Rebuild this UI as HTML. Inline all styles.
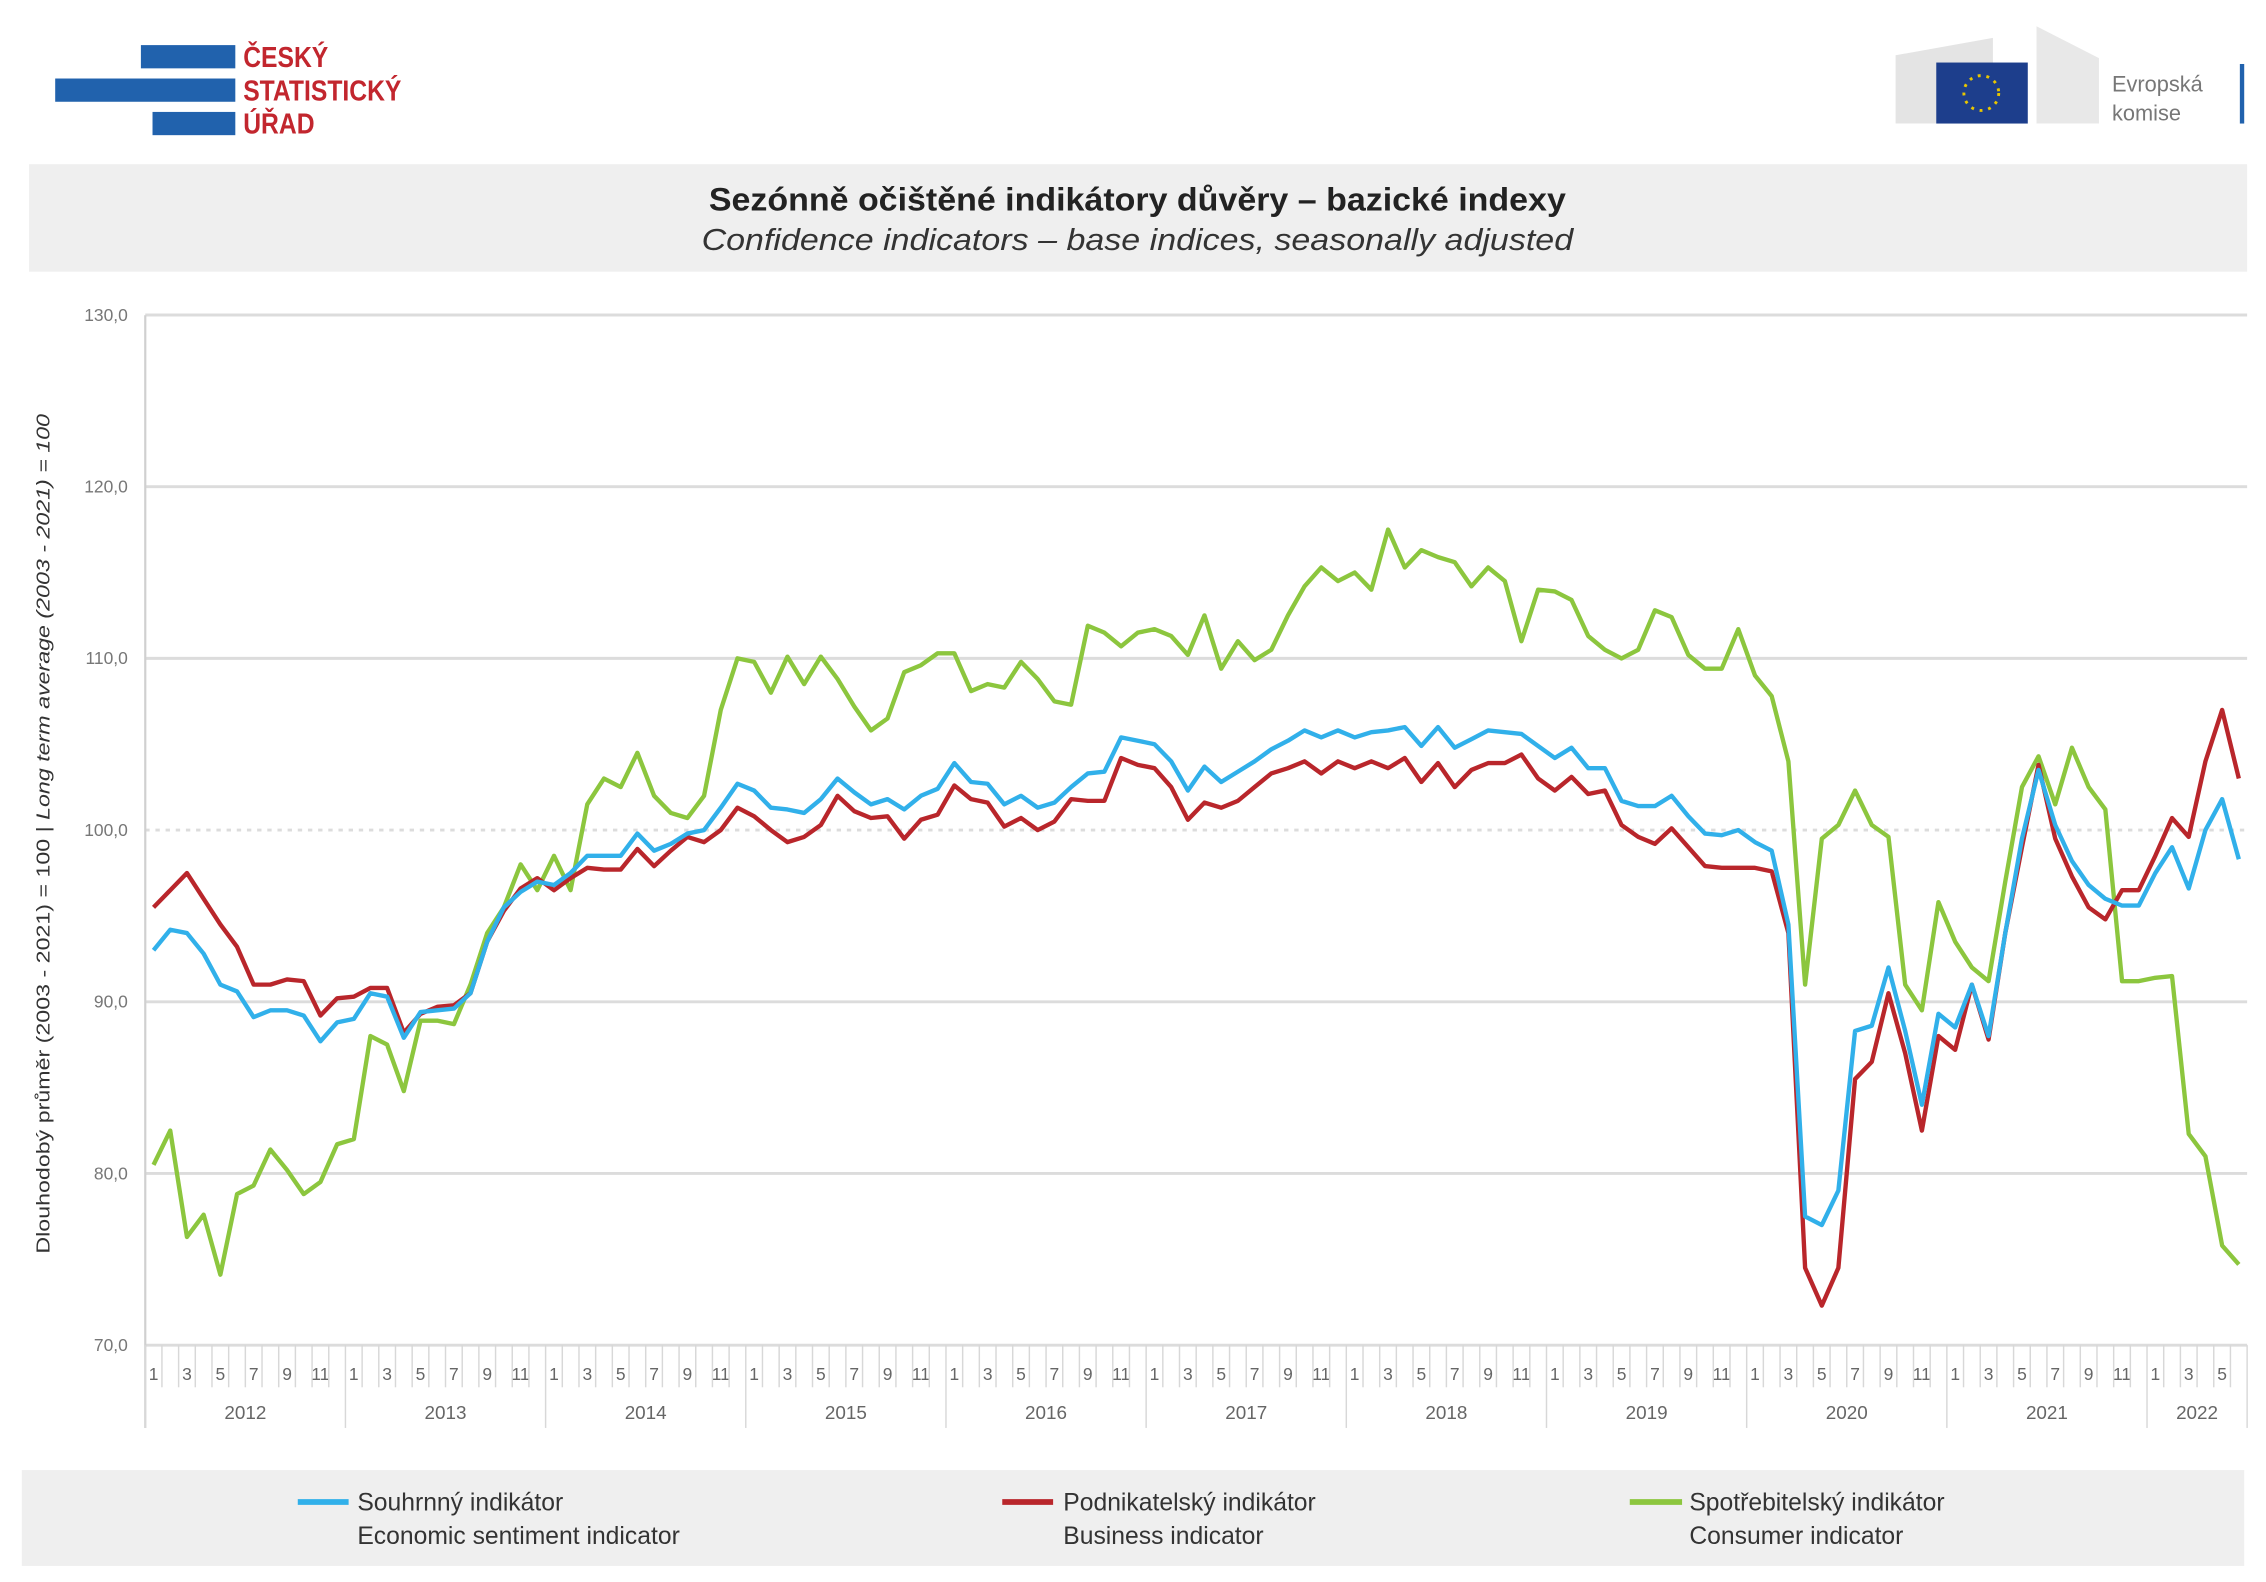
<!DOCTYPE html>
<html><head><meta charset="utf-8"><style>
html,body{margin:0;padding:0;background:#fff;}
svg{display:block;}
</style></head><body>
<svg id="s" width="2266" height="1582" viewBox="0 0 1560 1089" xmlns="http://www.w3.org/2000/svg" font-family="Liberation Sans, sans-serif">
<rect width="1560" height="1089" fill="#fff"/>
<!-- CSU logo -->
<rect x="97" y="31" width="65" height="16" fill="#2162ad"/>
<rect x="38" y="54" width="124" height="16" fill="#2162ad"/>
<rect x="105" y="77" width="57" height="16" fill="#2162ad"/>
<g fill="#c2262e" font-weight="bold" font-size="20" transform="scale(0.85,1)">
<text x="197" y="46">ČESKÝ</text>
<text x="197" y="69">STATISTICKÝ</text>
<text x="197" y="92">ÚŘAD</text>
</g>
<!-- EU logo -->
<polygon points="1305,38 1372,26 1372,85 1305,85" fill="#e4e4e4"/>
<polygon points="1402,18 1445,40 1445,85 1402,85" fill="#e8e8e8"/>
<rect x="1333" y="43" width="63" height="42" fill="#1d3e8c"/>
<circle cx="1364" cy="64" r="12" fill="none" stroke="#e8c600" stroke-width="2" stroke-dasharray="2 4"/>
<text x="1454" y="63" font-size="15" fill="#777">Evropská</text>
<text x="1454" y="83" font-size="15" fill="#777">komise</text>
<rect x="1542" y="44" width="3" height="41" fill="#2162ad"/>
<!-- Title -->
<rect x="20" y="113" width="1527" height="74" fill="#efefef"/>
<text x="783" y="145" text-anchor="middle" font-size="22" font-weight="bold" fill="#222" textLength="590" lengthAdjust="spacingAndGlyphs">Sezónně očištěné indikátory důvěry – bazické indexy</text>
<text x="783" y="172" text-anchor="middle" font-size="21" font-style="italic" fill="#333" textLength="600" lengthAdjust="spacingAndGlyphs">Confidence indicators – base indices, seasonally adjusted</text>
<!-- Legend -->
<rect x="15" y="1012" width="1530" height="66" fill="#efefef"/>
<g font-size="17" fill="#333">
<line x1="205" y1="1034" x2="240" y2="1034" stroke="#31b0ea" stroke-width="4"/>
<text x="246" y="1040">Souhrnný indikátor</text><text x="246" y="1063">Economic sentiment indicator</text>
<line x1="690" y1="1034" x2="725" y2="1034" stroke="#b9262b" stroke-width="4"/>
<text x="732" y="1040">Podnikatelský indikátor</text><text x="732" y="1063">Business indicator</text>
<line x1="1122" y1="1034" x2="1158" y2="1034" stroke="#8cc63e" stroke-width="4"/>
<text x="1163" y="1040">Spotřebitelský indikátor</text><text x="1163" y="1063">Consumer indicator</text>
</g>
<text transform="translate(34,574) rotate(-90)" text-anchor="middle" font-size="13" fill="#333" textLength="578" lengthAdjust="spacingAndGlyphs">Dlouhodobý průměr (2003 - 2021) = 100 | <tspan font-style="italic">Long term average (2003 - 2021) = 100</tspan></text>
<g id="plot"></g>
</svg>
<script>
var g=document.getElementById('plot'),h='';
function Y(v){return 926-(v-70)*11.82;}
var L=100,R=1547,mw=(R-L)/126;
for(var v=70;v<=130;v+=10){var y=Y(v);
 h+='<line x1="'+L+'" y1="'+y+'" x2="'+R+'" y2="'+y+'" stroke="#dcdcdc" stroke-width="2"'+(v==100?' stroke-dasharray="3 4"':'')+'/>';
 h+='<text x="88" y="'+(y+4)+'" text-anchor="end" font-size="12" fill="#777">'+v+',0</text>';}
h+='<line x1="'+L+'" y1="217" x2="'+L+'" y2="983" stroke="#d0d0d0" stroke-width="1.5"/>';
for(var i=0;i<126;i++){var x=L+i*mw;
 h+='<line x1="'+x+'" y1="926" x2="'+x+'" y2="'+(i%12==0?983:955)+'" stroke="#d8d8d8" stroke-width="1"/>';
 if(i%2==0)h+='<text x="'+(x+mw/2)+'" y="950" text-anchor="middle" font-size="12" fill="#666">'+(i%12+1)+'</text>';
}
h+='<line x1="'+R+'" y1="926" x2="'+R+'" y2="983" stroke="#d8d8d8"/>';
for(var yr=0;yr<11;yr++){var c=L+(yr*12+(yr==10?3:6))*mw;
 h+='<text x="'+c+'" y="977" text-anchor="middle" font-size="13" fill="#666">'+(2012+yr)+'</text>';}
var G=[80.5,82.5,76.3,77.6,74.1,78.8,79.3,81.4,80.2,78.8,79.5,81.7,82,88,87.5,84.8,88.9,88.9,88.7,91,94,95.5,98,96.5,98.5,96.5,101.5,103,102.5,104.5,102,101,100.7,102,107,110,109.8,108,110.1,108.5,110.1,108.8,107.2,105.8,106.5,109.2,109.6,110.3,110.3,108.1,108.5,108.3,109.8,108.8,107.5,107.3,111.9,111.5,110.7,111.5,111.7,111.3,110.2,112.5,109.4,111,109.9,110.5,112.5,114.2,115.3,114.5,115,114,117.5,115.3,116.3,115.9,115.6,114.2,115.3,114.5,111,114,113.9,113.4,111.3,110.5,110,110.5,112.8,112.4,110.2,109.4,109.4,111.7,109,107.8,104,91,99.5,100.3,102.3,100.3,99.6,91,89.5,95.8,93.5,92,91.2,97,102.5,104.3,101.5,104.8,102.5,101.2,91.2,91.2,91.4,91.5,82.3,81,75.8,74.7];
var B=[95.5,96.5,97.5,96,94.5,93.2,91,91,91.3,91.2,89.2,90.2,90.3,90.8,90.8,88.2,89.3,89.7,89.8,90.5,93.5,95.3,96.6,97.2,96.5,97.2,97.8,97.7,97.7,98.9,97.9,98.8,99.6,99.3,100,101.3,100.8,100,99.3,99.6,100.3,102,101.1,100.7,100.8,99.5,100.6,100.9,102.6,101.8,101.6,100.2,100.7,100,100.5,101.8,101.7,101.7,104.2,103.8,103.6,102.5,100.6,101.6,101.3,101.7,102.5,103.3,103.6,104,103.3,104,103.6,104,103.6,104.2,102.8,103.9,102.5,103.5,103.9,103.9,104.4,103,102.3,103.1,102.1,102.3,100.3,99.6,99.2,100.1,99,97.9,97.8,97.8,97.8,97.6,94,74.5,72.3,74.5,85.5,86.5,90.5,87,82.5,88,87.2,91,87.8,94,99,103.8,99.5,97.3,95.5,94.8,96.5,96.5,98.5,100.7,99.6,104,107,103];
var E=[93,94.2,94,92.8,91,90.6,89.1,89.5,89.5,89.2,87.7,88.8,89,90.5,90.3,87.9,89.4,89.5,89.6,90.5,93.5,95.5,96.4,97,96.8,97.5,98.5,98.5,98.5,99.8,98.8,99.2,99.8,100,101.3,102.7,102.3,101.3,101.2,101,101.8,103,102.2,101.5,101.8,101.2,102,102.4,103.9,102.8,102.7,101.5,102,101.3,101.6,102.5,103.3,103.4,105.4,105.2,105,104,102.3,103.7,102.8,103.4,104,104.7,105.2,105.8,105.4,105.8,105.4,105.7,105.8,106,104.9,106,104.8,105.3,105.8,105.7,105.6,104.9,104.2,104.8,103.6,103.6,101.7,101.4,101.4,102,100.8,99.8,99.7,100,99.3,98.8,94.5,77.5,77,79,88.3,88.6,92,88.3,84,89.3,88.5,91,88,94,99.5,103.5,100.3,98.2,96.8,96,95.6,95.6,97.5,99,96.6,100,101.8,98.3];
function P(a,col){var p='';for(var i=0;i<a.length;i++)p+=(i?'L':'M')+(L+(i+0.5)*mw).toFixed(1)+' '+Y(a[i]).toFixed(1);
 return '<path d="'+p+'" fill="none" stroke="'+col+'" stroke-width="3" stroke-linejoin="round"/>';}
h+=P(G,'#8cc63e')+P(B,'#b9262b')+P(E,'#31b0ea');
g.innerHTML=h;
</script>
</body></html>
